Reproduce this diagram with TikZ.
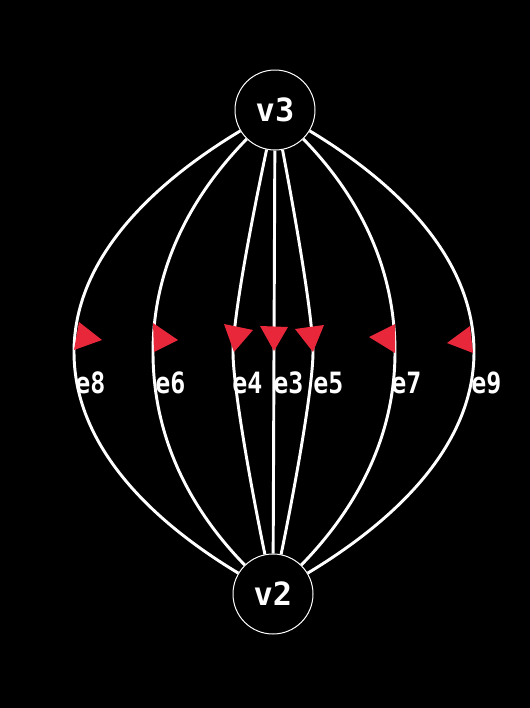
\documentclass[tikz,border=0pt]{standalone}
\usepackage{fontspec}
\newfontfamily\pixfont{DejaVu Sans Mono}
\newfontfamily\tagfont[FakeStretch=0.85]{DejaVu Sans Mono}
\definecolor{flagred}{RGB}{232,40,58}
\tikzstyle{vertex} = [draw=white, line width=0.75pt, circle, fill=black, minimum size=60pt, inner sep=0pt, text=white, font=\pixfont\bfseries\fontsize{24}{24}\selectfont]
\tikzstyle{edge} = [white, line width=2.2pt]
\tikzstyle{flag} = [fill=flagred]
\tikzstyle{tag} = [anchor=west, inner sep=0pt, text=white, font=\tagfont\bfseries\fontsize{22}{22}\selectfont]

\begin{document}
\begin{tikzpicture}[x=0.75pt, y=-0.75pt]
\fill[black] (0,0) rectangle (530,708);
\useasboundingbox (0,0) rectangle (530,708);
\node (v3) [vertex] at (275,110) {v3};
\node (v2) [vertex] at (273,594) {v2};
% midpoints of the edges
\coordinate (m8) at (74,352);
\coordinate (m6) at (153,352);
\coordinate (m4) at (233,352);
\coordinate (m5) at (313,352);
\coordinate (m7) at (395,352);
\coordinate (m9) at (474,352);
\draw[edge] (v3) .. controls (162,178) and (74,253) .. (m8) .. controls (74,451) and (160,526) .. (v2);
\draw[edge] (v3) .. controls (194,193) and (153,264) .. (m6) .. controls (153,440) and (192,511) .. (v2);
\draw[edge] (v3) .. controls (247,242) and (233,323) .. (m4) .. controls (233,381) and (246,462) .. (v2);
\draw[edge] (v3) -- (v2);
\draw[edge] (v3) .. controls (300,242) and (313,323) .. (m5) .. controls (313,381) and (300,462) .. (v2);
\draw[edge] (v3) .. controls (356,193) and (395,264) .. (m7) .. controls (395,440) and (354,511) .. (v2);
\draw[edge] (v3) .. controls (388,178) and (474,253) .. (m9) .. controls (474,451) and (386,526) .. (v2);
% arrow flags
\fill[flag] (79,322) -- (74,350) -- (102,340) -- cycle;
\fill[flag] (153,323) -- (154,352) -- (178,340) -- cycle;
\fill[flag] (224,324) -- (253,330) -- (234,352) -- cycle;
\fill[flag] (260,326) -- (288,327) -- (274,351) -- cycle;
\fill[flag] (295,329) -- (324,325) -- (313,352) -- cycle;
\fill[flag] (395,324) -- (395,353) -- (369,337) -- cycle;
\fill[flag] (470,326) -- (473,353) -- (447,343) -- cycle;
\node (t8) [tag] at (75,383) {e8};
\node (t6) [tag] at (155,383) {e6};
\node (t4) [tag] at (232,383) {e4};
\node (t3) [tag] at (273,383) {e3};
\node (t5) [tag] at (313,383) {e5};
\node (t7) [tag] at (391,383) {e7};
\node (t9) [tag] at (471,383) {e9};
\end{tikzpicture}
\end{document}
